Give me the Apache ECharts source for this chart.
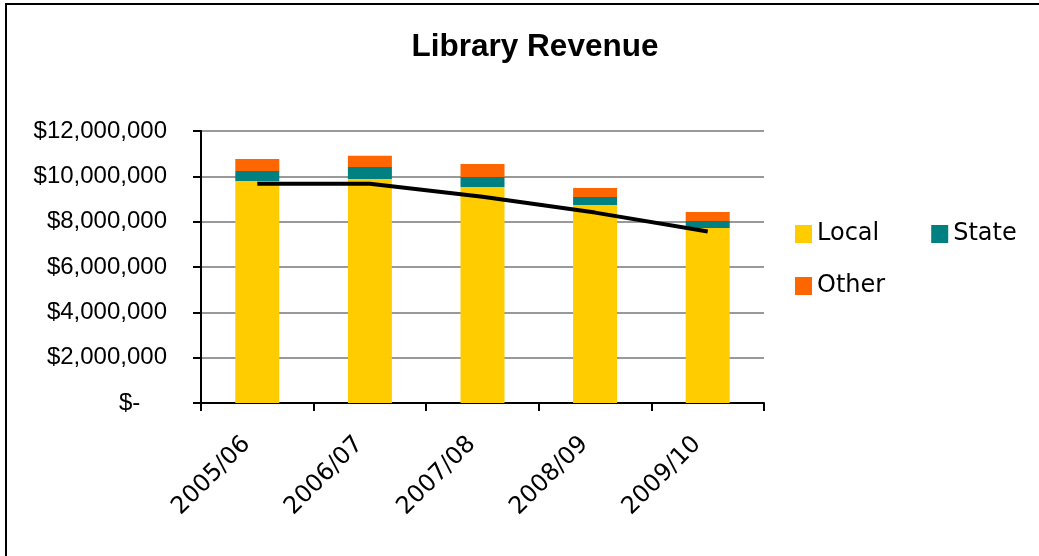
<!DOCTYPE html>
<html>
<head>
<meta charset="utf-8">
<title>Library Revenue</title>
<script src="https://cdn.jsdelivr.net/npm/echarts@6/dist/echarts.min.js"></script>
<style>
  html, body { margin: 0; padding: 0; background: #fff; }
  #chart { width: 1039px; height: 556px; }
</style>
</head>
<body>
<div id="chart"></div>
<script>
// Fiscal years on the category axis
const years = ['2005/06', '2006/07', '2007/08', '2008/09', '2009/10'];

// Revenue by source (dollars)
const localRevenue = [9790000, 9880000, 9530000, 8740000, 7720000];
const stateRevenue = [440000, 530000, 440000, 350000, 310000];
const otherRevenue = [530000, 500000, 570000, 400000, 400000];

// Trend line drawn over the bars (dollars)
const trendValues = [9670000, 9670000, 9100000, 8400000, 7570000];

// Value axis ticks
const yMin = 0;
const yMax = 12000000;
const yStep = 2000000;

const chart = echarts.init(document.getElementById('chart'), null, { renderer: 'canvas' });

// Accounting-style dollar labels; zero shows as a dash set in from the digits
const money = v => (v === 0 ? '$-    ' : '$' + v.toLocaleString('en-US'));

const legendText = {
  fontFamily: '"DejaVu Sans", Verdana, sans-serif',
  fontSize: 24,
  color: '#000',
  lineHeight: 26
};

chart.setOption({
  animation: false,
  backgroundColor: '#fff',
  title: {
    text: 'Library Revenue',
    left: 530,
    top: 26,
    textAlign: 'center',
    textStyle: {
      fontFamily: '"Liberation Sans", Arial, sans-serif',
      fontWeight: 'bold',
      fontSize: 31.5,
      color: '#000'
    }
  },
  graphic: [
    { type: 'line', shape: { x1: 6, y1: 4, x2: 1039, y2: 4 }, style: { stroke: '#000', lineWidth: 2 } },
    { type: 'line', shape: { x1: 6, y1: 3, x2: 6, y2: 556 }, style: { stroke: '#000', lineWidth: 2 } }
  ],
  legend: [
    {
      data: ['Local', 'State'],
      left: 795,
      top: 221,
      padding: 0,
      itemWidth: 17,
      itemHeight: 18,
      itemGap: 52,
      icon: 'rect',
      textStyle: legendText
    },
    {
      data: ['Other'],
      left: 795,
      top: 273,
      padding: 0,
      itemWidth: 17,
      itemHeight: 18,
      icon: 'rect',
      textStyle: legendText
    }
  ],
  grid: { left: 201, right: 275, top: 131, bottom: 153, containLabel: false },
  xAxis: {
    type: 'category',
    data: years,
    boundaryGap: true,
    axisLine: { show: true, lineStyle: { color: '#000', width: 2 } },
    axisTick: { show: true, length: 8, lineStyle: { color: '#000', width: 2 } },
    axisLabel: {
      rotate: 45,
      margin: 27,
      padding: [0, 15, 0, 0],
      fontFamily: '"DejaVu Sans", Verdana, sans-serif',
      fontSize: 24,
      color: '#000'
    }
  },
  yAxis: {
    type: 'value',
    min: yMin,
    max: yMax,
    interval: yStep,
    axisLine: { show: true, lineStyle: { color: '#000', width: 2 } },
    axisTick: { show: true, length: 8, lineStyle: { color: '#000', width: 2 } },
    splitLine: { show: true, lineStyle: { color: '#999', width: 2 } },
    axisLabel: {
      margin: 34,
      formatter: money,
      fontFamily: '"Liberation Sans", Arial, sans-serif',
      fontSize: 24,
      color: '#000'
    }
  },
  series: [
    {
      name: 'Local', type: 'bar', stack: 'revenue', barWidth: 44,
      itemStyle: { color: '#FFCC00' }, data: localRevenue
    },
    {
      name: 'State', type: 'bar', stack: 'revenue', barWidth: 44,
      itemStyle: { color: '#008080' }, data: stateRevenue
    },
    {
      name: 'Other', type: 'bar', stack: 'revenue', barWidth: 44,
      itemStyle: { color: '#FF6600' }, data: otherRevenue
    },
    {
      name: 'Trend', type: 'line', data: trendValues,
      symbol: 'none', z: 5,
      lineStyle: { color: '#000', width: 4 },
      itemStyle: { color: '#000' }
    }
  ]
});
</script>
</body>
</html>
